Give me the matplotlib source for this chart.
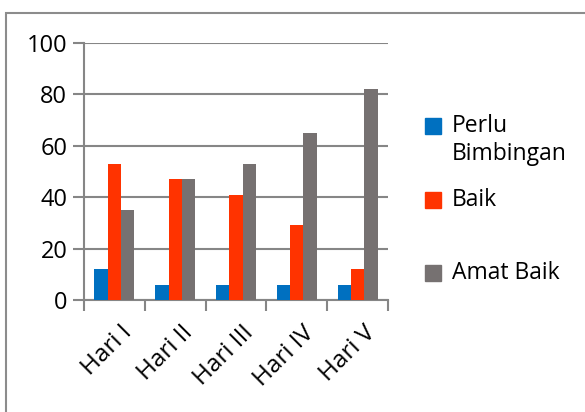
import numpy as np
import matplotlib.pyplot as plt
import matplotlib.transforms as mtransforms
from matplotlib.patches import Rectangle

plt.rcParams['font.family'] = ['Open Sans', 'DejaVu Sans']

# data
days = ['Hari I', 'Hari II', 'Hari III', 'Hari IV', 'Hari V']
series_names = ['Perlu\nBimbingan', 'Baik', 'Amat Baik']
perlu_bimbingan = [12, 6, 6, 6, 6]
baik = [53, 47, 41, 29, 12]
amat_baik = [35, 47, 53, 65, 82]
colors = ['#0070C0', '#FF3300', '#767171']

W, H = 585, 412
fig = plt.figure(figsize=(W / 100, H / 100), dpi=100)
ax = fig.add_axes([84 / W, 1 - 300 / H, 304 / W, 257 / H])

x = np.arange(len(days))
width = 0.22
for i, vals in enumerate([perlu_bimbingan, baik, amat_baik]):
    ax.bar(x + (i - 1) * width, vals, width, color=colors[i], zorder=3)

grid_col = '#868686'
ax.set_xlim(-0.5, len(days) - 0.5)
ax.set_ylim(0, 100)
ax.set_yticks(np.arange(0, 101, 20))
ax.yaxis.grid(True, color=grid_col, linewidth=1.5, zorder=0)
ax.tick_params(axis='y', length=8, width=1.5, color=grid_col, labelsize=17, pad=4)

ax.set_xticks(x)
ax.set_xticklabels(days, rotation=45, ha='right', va='top', rotation_mode='anchor', fontsize=17.5)
ax.tick_params(axis='x', which='major', length=0, pad=15)
ax.set_xticks(np.arange(-0.5, len(days)), minor=True)
ax.tick_params(axis='x', which='minor', length=8, width=1.5, color=grid_col)
# nudge labels a little to the right, like the Excel original
shift = mtransforms.ScaledTranslation(6 / 100, 0, fig.dpi_scale_trans)
for lbl in ax.get_xticklabels():
    lbl.set_transform(lbl.get_transform() + shift)

for s in ['top', 'right']:
    ax.spines[s].set_visible(False)
for s in ['left', 'bottom']:
    ax.spines[s].set_color(grid_col)
    ax.spines[s].set_linewidth(1.5)

# legend drawn by hand to keep Excel spacing
leg_y = [126, 200, 273]
for name, c, yc in zip(series_names, colors, leg_y):
    fig.patches.append(Rectangle((425 / W, 1 - (yc + 8) / H), 16 / W, 16 / H,
                                 transform=fig.transFigure, color=c))
    first_line_top = yc - 12
    fig.text(452 / W, 1 - first_line_top / H, name, fontsize=16.5, va='top',
             ha='left', linespacing=1.2)

# outer chart frame
fig.patches.append(Rectangle((6 / W, -0.1), 1.2, (412 - 13) / H + 0.1,
                             transform=fig.transFigure, fill=False,
                             edgecolor='#8c8c8c', linewidth=1.5))

fig.savefig('out.png', dpi=100)
